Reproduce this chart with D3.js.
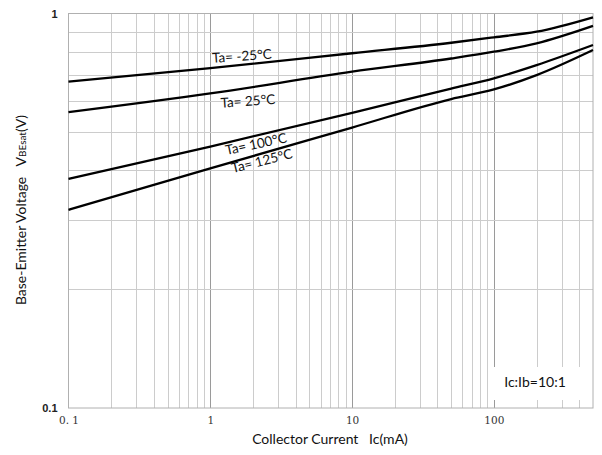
<!DOCTYPE html>
<html>
<head>
<meta charset="utf-8">
<script src="https://cdn.jsdelivr.net/npm/d3@7"></script>
<style>
  body { margin: 0; background: #fff; }
  text { font-family: Lato, "Noto Sans", sans-serif; }
</style>
</head>
<body>
<div id="viz"></div>
<script>
// collector current (mA)
var ic = [0.1, 1, 10, 50, 100, 200, 500];
// VBE(sat) in volts, one array per temperature
var vTaM25 = [0.672, 0.727, 0.793, 0.843, 0.870, 0.899, 0.978];
var vTa25  = [0.562, 0.627, 0.712, 0.769, 0.800, 0.840, 0.930];
var vTa100 = [0.381, 0.460, 0.560, 0.645, 0.685, 0.740, 0.832];
var vTa125 = [0.318, 0.405, 0.514, 0.607, 0.642, 0.698, 0.808];
var seriesNames = ['Ta= -25°C', 'Ta= 25°C', 'Ta= 100°C', 'Ta= 125°C'];
var xTickValues = [0.1, 1, 10, 100];
var xTickLabels = ['0. 1', '1', '10', '100'];
var yTickValues = [0.1, 1];
var yTickLabels = ['0.1', '1'];

var width = 602, height = 455;
var margin = {top: 13.5, right: 9, bottom: 47, left: 68.5};

var series = [vTaM25, vTa25, vTa100, vTa125].map((vals, i) => ({
  name: seriesNames[i],
  points: ic.map((c, j) => ({ic: c, v: vals[j]}))
}));

// where each label sits (mA, V) and how much it is tilted
var labelSpots = [
  {ic: 1.67, v: 0.780, rot: -4},
  {ic: 1.84, v: 0.600, rot: -4},
  {ic: 2.10, v: 0.467, rot: -12},
  {ic: 2.31, v: 0.423, rot: -14}
];

var x = d3.scaleLog().domain([0.1, 500]).range([margin.left, width - margin.right]);
var y = d3.scaleLog().domain([0.1, 1]).range([height - margin.bottom, margin.top]);

var svg = d3.select('#viz').append('svg')
  .attr('width', width)
  .attr('height', height);

// grid
var xGrid = [];
[0.1, 1, 10, 100].forEach(d => {
  for (let k = 1; k < 10; k++) {
    var v = d * k;
    if (v > 0.1 && v < 500) xGrid.push(v);
  }
});
var yGrid = d3.range(2, 10).map(k => k / 10);

var grid = svg.append('g');
grid.selectAll('.vg').data(xGrid).enter().append('line')
  .attr('x1', d => Math.round(x(d)) + 0.5).attr('x2', d => Math.round(x(d)) + 0.5)
  .attr('y1', y(1)).attr('y2', y(0.1))
  .attr('stroke', d => [1, 10, 100].includes(Math.round(d * 10) / 10) ? '#9a9a9a' : '#cccccc')
  .attr('stroke-width', 1);
grid.selectAll('.hg').data(yGrid).enter().append('line')
  .attr('x1', x(0.1)).attr('x2', x(500))
  .attr('y1', d => Math.round(y(d)) + 0.5).attr('y2', d => Math.round(y(d)) + 0.5)
  .attr('stroke', '#cccccc')
  .attr('stroke-width', 1);

// frame
svg.append('rect')
  .attr('x', x(0.1)).attr('y', y(1))
  .attr('width', x(500) - x(0.1)).attr('height', y(0.1) - y(1))
  .attr('fill', 'none').attr('stroke', '#b0b0b0').attr('stroke-width', 1);

// condition note box
svg.append('rect')
  .attr('x', 491).attr('y', 367).attr('width', 99).attr('height', 33)
  .attr('fill', '#fff');
svg.append('text')
  .attr('x', 535).attr('y', 387)
  .attr('text-anchor', 'middle')
  .style('font-size', '14px').attr('fill', '#111')
  .text('Ic:Ib=10:1');

// curves
var line = d3.line()
  .x(d => x(d.ic))
  .y(d => y(d.v))
  .curve(d3.curveMonotoneX);

svg.append('g').selectAll('path').data(series).enter().append('path')
  .attr('d', d => line(d.points))
  .attr('fill', 'none')
  .attr('stroke', '#000')
  .attr('stroke-width', 2.3);

svg.append('g').selectAll('text').data(series).enter().append('text')
  .attr('transform', (d, i) => `translate(${x(labelSpots[i].ic)},${y(labelSpots[i].v)}) rotate(${labelSpots[i].rot})`)
  .attr('text-anchor', 'middle')
  .attr('dy', '0.35em')
  .style('font-size', '13.5px')
  .attr('fill', '#111')
  .text(d => d.name);

// axes
var xAxis = d3.axisBottom(x).tickValues(xTickValues).tickSize(0).tickPadding(9)
  .tickFormat((d, i) => xTickLabels[i]);
var xGuide = svg.append('g')
  .attr('transform', `translate(0,${y(0.1)})`)
  .call(xAxis);
xGuide.select('.domain').remove();
xGuide.selectAll('text')
  .style('font-family', '"DejaVu Serif", "Liberation Serif", serif')
  .style('font-size', '10.5px').attr('fill', '#333');

var yAxis = d3.axisLeft(y).tickValues(yTickValues).tickSize(0).tickPadding(11)
  .tickFormat((d, i) => yTickLabels[i]);
var yGuide = svg.append('g')
  .attr('transform', `translate(${x(0.1)},0)`)
  .call(yAxis);
yGuide.select('.domain').remove();
yGuide.selectAll('text')
  .style('font-family', '"Liberation Sans", Arial, sans-serif')
  .style('font-size', '11px').style('font-weight', 'bold').attr('fill', '#222');

// axis titles
svg.append('text')
  .attr('x', 330).attr('y', 444)
  .attr('text-anchor', 'middle')
  .style('font-size', '14px').attr('fill', '#111')
  .attr('xml:space', 'preserve')
  .text('Collector Current   Ic(mA)');

var yTitle = svg.append('text')
  .attr('transform', 'translate(26,210) rotate(-90)')
  .attr('text-anchor', 'middle')
  .style('font-size', '14px').attr('fill', '#111')
  .attr('xml:space', 'preserve');
yTitle.append('tspan').text('Base-Emitter Voltage   V');
yTitle.append('tspan').style('font-size', '10px').text('BEsat');
yTitle.append('tspan').text('(V)');
</script>
</body>
</html>
